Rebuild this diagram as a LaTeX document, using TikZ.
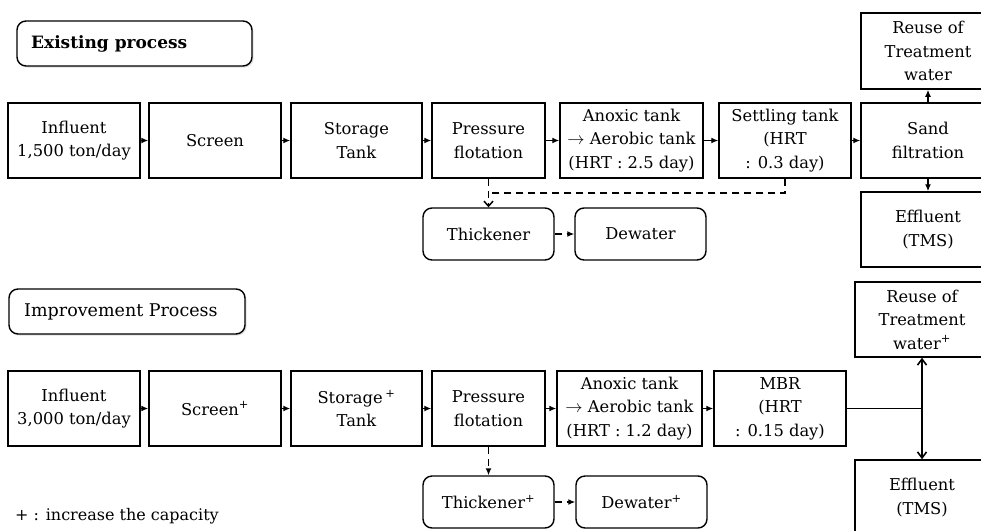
\documentclass[tikz,border=0pt]{standalone}
\usepackage{fontspec}
\setmainfont{DejaVu Serif}
\usetikzlibrary{arrows.meta,shadows}
\begin{document}
\begin{tikzpicture}[x=1pt,y=-1pt,
  txt/.style={font=\fontsize{16.3}{23.5}\selectfont, align=center, inner sep=0pt},
  pbox/.style={txt, draw, line width=1.5pt, rectangle, minimum height=75pt},
  rbox/.style={txt, draw, line width=1.4pt, rounded corners=9pt, minimum height=52pt, minimum width=131pt},
  tbox/.style={draw, line width=1.4pt, rounded corners=9pt, inner sep=0pt, fill=white,
     drop shadow={opacity=0.25, shadow xshift=1.5pt, shadow yshift=-1.5pt}},
  flow/.style={line width=1.3pt, -{Latex[length=7pt,width=6pt]}},
  vflow/.style={line width=1.6pt, -{Straight Barb[length=6pt,width=9pt,line width=1.6pt]}},
  dflow/.style={line width=1.4pt, dash pattern=on 7pt off 5pt},
]
\clip (0,0) rectangle (981,530);
\fill[white] (0,0) rectangle (981,530);

% ---------- Existing process ----------
\node[tbox, minimum width=235pt, minimum height=45pt] (t1) at (134.5,43.5) {};
\node[font=\fontsize{17}{20}\selectfont\bfseries, anchor=west, inner sep=0pt] (t1l) at (31,43.5) {Existing process};

\node[pbox, minimum width=132pt] (in1) at (74,140.5) {Influent\\1,500 ton/day};
\node[pbox, minimum width=132pt] (sc1) at (215,140.5) {Screen};
\node[pbox, minimum width=131pt] (st1) at (356.5,140.5) {Storage\\Tank};
\node[pbox, minimum width=113pt] (pf1) at (488.5,140.5) {Pressure\\flotation};
\node[pbox, minimum width=143pt] (an1) at (631.5,140.5) {Anoxic tank\\$\rightarrow$ Aerobic tank\\(HRT : 2.5 day)};
\node[pbox, minimum width=132pt] (se1) at (785,140.5) {Settling tank\\(HRT\\: 0.3 day)};
\node[pbox, minimum width=134pt] (sa1) at (928,140.5) {Sand\\filtration};
\node[pbox, minimum width=134pt, minimum height=76pt] (re1) at (928,51) {Reuse of\\Treatment\\water};
\node[pbox, minimum width=134pt] (ef1) at (928,229.5) {Effluent\\(TMS)};
\node[rbox] (th1) at (488.5,234) {Thickener};
\node[rbox] (dw1) at (640.5,234) {Dewater};

\draw[flow] (in1.east) -- (sc1.west);
\draw[flow] (sc1.east) -- (st1.west);
\draw[flow] (st1.east) -- (pf1.west);
\draw[flow] (pf1.east) -- (an1.west);
\draw[flow] (an1.east) -- (se1.west);
\draw[flow] (se1.east) -- (sa1.west);
\draw[flow] (sa1.north) -- (re1.south);
\draw[flow] (sa1.south) -- (ef1.north);
\coordinate (j1) at (488.5,193);
\draw[dflow] (se1.south) |- (j1);
\draw[dflow, -{Straight Barb[length=5pt,width=9pt,line width=1.5pt]}] (pf1.south) -- (th1.north);
\draw[dflow, -{Latex[length=7pt,width=6pt]}] (th1.east) -- (dw1.west);

% ---------- Improvement process ----------
\node[tbox, minimum width=236pt, minimum height=45pt] (t2) at (127,311.5) {};
\node[font=\fontsize{17.5}{20}\selectfont, anchor=west, inner sep=0pt] (t2l) at (24,311.5) {Improvement Process};

\node[pbox, minimum width=132pt] (in2) at (74,408.5) {Influent\\3,000 ton/day};
\node[pbox, minimum width=132pt] (sc2) at (215,408.5) {Screen\textsuperscript{+}};
\node[pbox, minimum width=131pt] (st2) at (356.5,408.5) {Storage\,\textsuperscript{+}\\Tank};
\node[pbox, minimum width=113pt] (pf2) at (488.5,408.5) {Pressure\\flotation};
\node[pbox, minimum width=145pt] (an2) at (629.5,408.5) {Anoxic tank\\$\rightarrow$ Aerobic tank\\(HRT : 1.2 day)};
\node[pbox, minimum width=132pt] (mb2) at (780,408.5) {MBR\\(HRT\\: 0.15 day)};
\node[pbox, minimum width=134pt] (re2) at (922,319.5) {Reuse of\\Treatment\\water\textsuperscript{+}};
\node[pbox, minimum width=134pt] (ef2) at (922,497.5) {Effluent\\(TMS)};
\node[rbox] (th2) at (488.5,502) {Thickener\textsuperscript{+}};
\node[rbox] (dw2) at (641.5,502) {Dewater\textsuperscript{+}};

\draw[flow] (in2.east) -- (sc2.west);
\draw[flow] (sc2.east) -- (st2.west);
\draw[flow] (st2.east) -- (pf2.west);
\draw[flow] (pf2.east) -- (an2.west);
\draw[flow] (an2.east) -- (mb2.west);
\coordinate (j2) at (922,408.5);
\draw[line width=1.6pt] (mb2.east) -- (j2);
\draw[vflow] (j2) -- (re2.south);
\draw[vflow] (j2) -- (ef2.north);
\draw[dflow, -{Latex[length=7pt,width=6pt]}] (pf2.south) -- (th2.north);
\draw[dflow, -{Latex[length=7pt,width=6pt]}] (th2.east) -- (dw2.west);

\node[txt, anchor=west, font=\fontsize{16}{20}\selectfont] (leg) at (15,516) {+ : increase the capacity};
\end{tikzpicture}
\end{document}
